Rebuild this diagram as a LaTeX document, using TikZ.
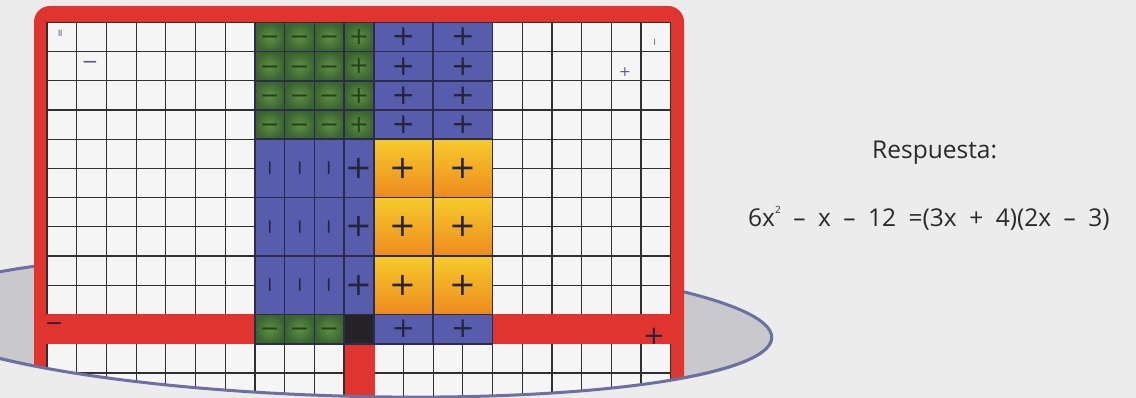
\documentclass[tikz,border=0pt]{standalone}
\usepackage{fontspec}
\setmainfont{Open Sans}
\newfontfamily\signfont{DejaVu Sans}
\definecolor{pagebg}{HTML}{ECECEC}
\definecolor{ellfill}{HTML}{C9C9CD}
\definecolor{ellline}{HTML}{6C70A0}
\definecolor{boardred}{HTML}{E0342E}
\definecolor{cellwhite}{HTML}{F5F5F5}
\definecolor{gridc}{HTML}{303030}
\definecolor{tileblue}{HTML}{575CAC}
\definecolor{tileedge}{HTML}{2A2C4A}
\definecolor{gin}{HTML}{5E9045}
\definecolor{gout}{HTML}{3A6330}
\definecolor{yel}{HTML}{F6CB2C}
\definecolor{org}{HTML}{EE8A1E}
\definecolor{tileblack}{HTML}{262326}
\definecolor{signdark}{HTML}{25253A}
\definecolor{gsign}{HTML}{26401E}
\definecolor{marker}{HTML}{5A5A80}
\definecolor{textc}{HTML}{2A2A2A}
\tikzset{
  gridline/.style={draw=gridc, line width=1.2pt},
  greentile/.style={inner color=gin, outer color=gout, draw=tileedge, line width=1.6pt},
  bluetile/.style={fill=tileblue, draw=tileedge, line width=1.6pt},
  orangetile/.style={top color=yel, bottom color=org, draw=tileedge, line width=1.6pt},
  blacktile/.style={fill=tileblack, draw=tileedge, line width=1.6pt},
  tsign/.style={inner sep=0pt, text=signdark},
  gsz/.style={tsign, text=gsign, font=\signfont\fontsize{24}{24}\selectfont},
  gmin/.style={gsz, yshift=-3.5pt},
  msz/.style={tsign, font=\signfont\fontsize{28}{28}\selectfont},
  lsz/.style={tsign, font=\signfont\fontsize{32}{32}\selectfont},
  vsz/.style={tsign, rotate=90, yshift=-3pt, font=\signfont\fontsize{20}{20}\selectfont},
  smallmark/.style={inner sep=0pt, text=marker, font=\signfont\fontsize{#1}{#1}\selectfont},
  answer/.style={inner sep=0pt, anchor=base west, text=textc, font=\fontsize{24.5}{28}\selectfont}
}
% tile: col, row, width, height, tile style, sign style, sign text
\newcommand{\tl}[7]{%
  \path[#5] ({47+#1*29.7},{22.5+#2*29.2}) rectangle ({47+(#1+#3)*29.7},{22.5+(#2+#4)*29.2});
  \node[#6] (s-#1-#2) at ({47+(#1+#3/2)*29.7},{22.5+(#2+#4/2)*29.2}) {#7};
}
\begin{document}
\begin{tikzpicture}[x=1pt,y=-1pt]
\useasboundingbox (0,0) rectangle (1136,398);
\fill[pagebg] (0,0) rectangle (1136,398);
% ellipse behind the board
\begin{scope}[shift={(341,325)},rotate=-1.7]
  \fill[ellfill] (0pt,0pt) ellipse [x radius=431pt, y radius=71pt];
  \draw[ellline, line width=3pt] (0pt,0pt) ellipse [x radius=431pt, y radius=71pt];
\end{scope}
% board
\fill[boardred, rounded corners=16pt] (34,6) rectangle (684,460);
\fill[cellwhite] (47,22.5) rectangle (671,460);
\foreach \i in {0,...,21} \draw[gridline] ({47+\i*29.7},22.5) -- ({47+\i*29.7},460);
\foreach \j in {0,...,15} \draw[gridline] (47,{22.5+\j*29.2}) -- (671,{22.5+\j*29.2});
\fill[boardred] (46,314.5) rectangle (672,343.7);
\fill[boardred] (344.9,343.7) rectangle (374.6,460);
% unit tiles (green) and horizontal x tiles
\foreach \r in {0,...,3} {
  \foreach \c in {7,8,9} { \tl{\c}{\r}{1}{1}{greentile}{gmin}{−} }
  \tl{10}{\r}{1}{1}{greentile}{gsz}{+}
  \tl{11}{\r}{2}{1}{bluetile}{msz}{+}
  \tl{13}{\r}{2}{1}{bluetile}{msz}{+}
}
% vertical x tiles and x^2 tiles
\foreach \r in {4,6,8} {
  \foreach \c in {7,8,9} { \tl{\c}{\r}{1}{2}{bluetile}{vsz}{−} }
  \tl{10}{\r}{1}{2}{bluetile}{lsz}{+}
  \tl{11}{\r}{2}{2}{orangetile}{lsz}{+}
  \tl{13}{\r}{2}{2}{orangetile}{lsz}{+}
}
% row in the red band
\foreach \c in {7,8,9} { \tl{\c}{10}{1}{1}{greentile}{gmin}{−} }
\path[blacktile] ({47+10*29.7},{22.5+10*29.2}) rectangle ({47+11*29.7},{22.5+11*29.2});
\tl{11}{10}{2}{1}{bluetile}{msz}{+}
\tl{13}{10}{2}{1}{bluetile}{msz}{+}
% axis markers
\node[smallmark=10, rotate=90] (m1) at (61,33) {=};
\node[smallmark=20] (m2) at (90,65) {−};
\node[smallmark=10, rotate=90] (m3) at (656,42) {−};
\node[smallmark=14] (m4) at (625,72) {+};
\node[tsign, text=signdark, font=\signfont\fontsize{22}{22}\selectfont] (m5) at (54,327) {−};
\node[tsign, text=signdark, font=\signfont\fontsize{26}{26}\selectfont] (m6) at (654,336) {+};
% cut the board along the lower half of the ellipse
\begin{scope}[shift={(341,325)},rotate=-1.7]
  \fill[pagebg] (-431pt,0pt) arc[start angle=180, end angle=360, x radius=431pt, y radius=71pt]
     -- (900pt,0pt) -- (900pt,-200pt) -- (-900pt,-200pt) -- (-900pt,0pt) -- cycle;
  \draw[ellline, line width=3pt] (-431pt,0pt) arc[start angle=180, end angle=360, x radius=431pt, y radius=71pt];
\end{scope}
% answer text
\node[answer] (resp) at (872,159) {Respuesta:};
\node[answer] (eq) at (748,227) {\spaceskip=12.5pt\relax 6x\raisebox{0.55em}{\fontsize{10}{10}\selectfont 2} – x – 12 =(3x + 4)(2x – 3)};
\end{tikzpicture}
\end{document}
